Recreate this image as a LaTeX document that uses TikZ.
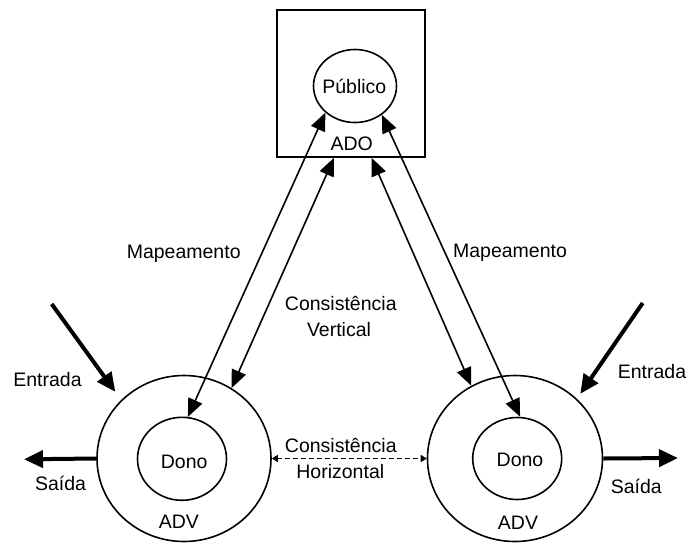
\documentclass[tikz,border=0pt]{standalone}
\usepackage{fontspec}
\setmainfont{Liberation Sans}
\usetikzlibrary{shapes.geometric,arrows.meta}
\begin{document}
\begin{tikzpicture}[x=1pt,y=-1pt,
  every node/.style={font=\fontsize{19.5}{26}\selectfont},
  outline/.style={draw,line width=1.6pt},
  oval/.style={outline,ellipse,inner sep=0pt},
  lbl/.style={anchor=base,inner sep=0pt},
  link/.style={line width=1.6pt,{Triangle[length=18pt,width=15pt]}-{Triangle[length=18pt,width=15pt]}},
  flow/.style={line width=4pt,-{Triangle[length=19pt,width=17pt]}},
  sync/.style={line width=1.5pt,dash pattern=on 5pt off 3pt,{Triangle[length=6pt,width=7pt]}-{Triangle[length=6pt,width=7pt]}}
]
\useasboundingbox (0,0) rectangle (686,542);

% containers and their inner parts
\node[outline,minimum width=148pt,minimum height=147pt,inner sep=0pt] (ado) at (351,83.5) {};
\node[oval,minimum width=83pt,minimum height=73pt] (pub) at (355,86) {};
\node[oval,minimum width=174pt,minimum height=166pt] (advL) at (184,458.5) {};
\node[oval,minimum width=89pt,minimum height=83pt] (donoL) at (182,458.8) {};
\node[oval,minimum width=175pt,minimum height=166pt] (advR) at (515,458.5) {};
\node[oval,minimum width=89pt,minimum height=82pt] (donoR) at (517.2,458.5) {};

% labels
\node[lbl] (tPub) at (354.3,93.3) {Público};
\node[lbl] (tAdo) at (351.7,150.7) {ADO};
\node[lbl] (tMapL) at (183.7,258.3) {Mapeamento};
\node[lbl] (tMapR) at (510,257.7) {Mapeamento};
\node[lbl] (tCV1) at (340.8,310) {Consistência};
\node[lbl] (tCV2) at (339,336) {Vertical};
\node[lbl] (tCH1) at (340.8,452.7) {Consistência};
\node[lbl] (tCH2) at (340.3,478.3) {Horizontal};
\node[lbl] (tEntL) at (47.5,386.7) {Entrada};
\node[lbl] (tEntR) at (652,378.3) {Entrada};
\node[lbl] (tSaiL) at (60.5,490) {Saída};
\node[lbl] (tSaiR) at (636.3,493.3) {Saída};
\node[lbl] (tDonoL) at (184.2,468.3) {Dono};
\node[lbl] (tDonoR) at (520,466.7) {Dono};
\node[lbl] (tAdvL) at (178.8,528.3) {ADV};
\node[lbl] (tAdvR) at (518,529.3) {ADV};

% free ends of input and output flows
\coordinate (inL) at (51.7,304);
\coordinate (inR) at (642.7,303);
\coordinate (outL) at (24,459.3);
\coordinate (outR) at (678,458);

% mapping and vertical consistency
\draw[link] (pub.222) -- (donoL.82.3);
\draw[link] ([xshift=-17pt]ado.south) -- (advL.56.1);
\draw[link] ([xshift=20.5pt]ado.south) -- (advR.121.9);
\draw[link] (pub.313) -- (donoR.86);

% inputs and outputs
\draw[flow,shorten >=10pt] (inL) -- (advL.137);
\draw[flow,shorten >=6pt] (inR) -- (advR.44.6);
\draw[flow] (advL.west) -- (outL);
\draw[flow] (advR.east) -- (outR);

% horizontal consistency
\draw[sync] (advL.east) -- (advR.west);
\end{tikzpicture}
\end{document}
